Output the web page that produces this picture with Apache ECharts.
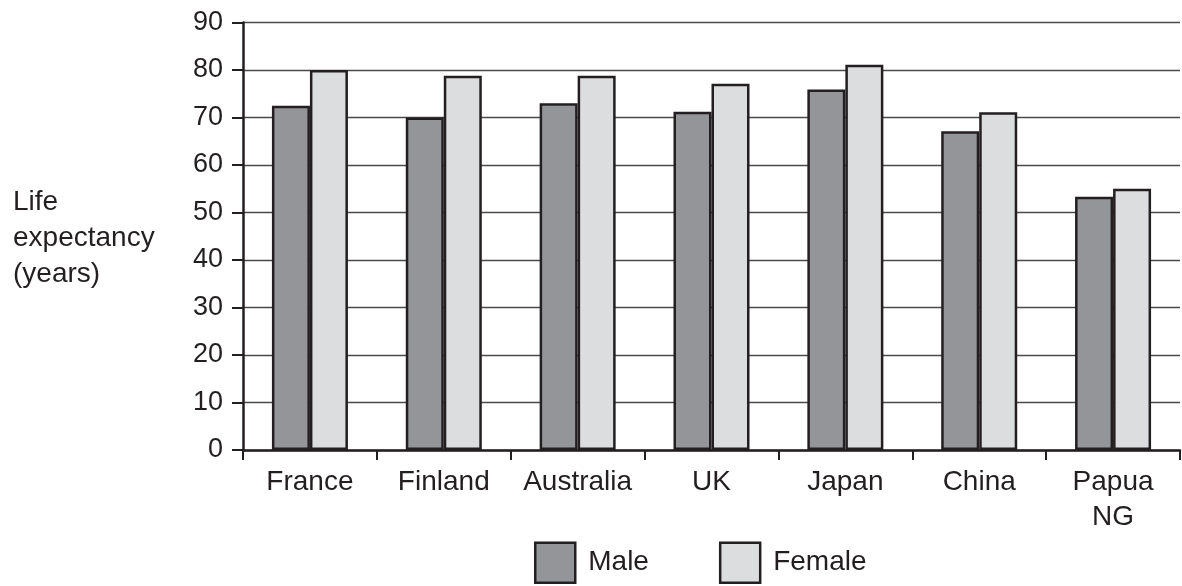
<!DOCTYPE html>
<html>
<head>
<meta charset="utf-8">
<script src="https://cdn.jsdelivr.net/npm/echarts@6/dist/echarts.min.js"></script>
<style>html,body{margin:0;padding:0;background:#fff}#c{width:1182px;height:586px}</style>
</head>
<body>
<div id="c"></div>
<script>
const categories = ['France', 'Finland', 'Australia', 'UK', 'Japan', 'China', 'Papua\nNG'];
const maleValues = [72.5, 70.0, 73.0, 71.2, 75.9, 67.1, 53.3];
const femaleValues = [80.0, 78.8, 78.8, 77.1, 81.1, 71.1, 55.0];
const seriesNames = ['Male', 'Female'];
const yTicks = { min: 0, max: 90, interval: 10 };

const FONT = 'Liberation Sans, Arial, Helvetica, sans-serif';
const INK = '#231f20';

const chart = echarts.init(document.getElementById('c'), null, { renderer: 'canvas' });
chart.setOption({
  animation: false,
  backgroundColor: '#ffffff',
  textStyle: { fontFamily: FONT, color: INK },
  grid: { left: 243, right: 2, top: 22.5, bottom: 136, containLabel: false },
  graphic: [{
    type: 'text',
    left: 13,
    top: 184,
    style: {
      text: 'Life\nexpectancy\n(years)',
      font: '28px ' + FONT,
      fill: INK,
      lineHeight: 36
    }
  }],
  legend: {
    data: seriesNames,
    left: 534,
    top: 541.5,
    padding: 0,
    icon: 'rect',
    itemWidth: 40,
    itemHeight: 40,
    itemGap: 70,
    itemStyle: { borderWidth: 2.5, borderColor: INK },
    textStyle: { fontFamily: FONT, fontSize: 28, color: INK, padding: [0, 0, 0, 8] }
  },
  xAxis: {
    type: 'category',
    data: categories,
    axisLine: { lineStyle: { color: INK, width: 2.5 } },
    axisTick: { show: true, alignWithLabel: false, length: 10, lineStyle: { color: INK, width: 2 } },
    axisLabel: { fontFamily: FONT, fontSize: 28, color: INK, margin: 15, lineHeight: 35, interval: 0 },
    splitLine: { show: false }
  },
  yAxis: {
    type: 'value',
    min: yTicks.min,
    max: yTicks.max,
    interval: yTicks.interval,
    axisLine: { show: true, lineStyle: { color: INK, width: 2.5 } },
    axisTick: { show: true, length: 11, lineStyle: { color: INK, width: 2 } },
    axisLabel: { fontFamily: FONT, fontSize: 27, color: INK, margin: 20 },
    splitLine: { show: true, lineStyle: { color: '#4a4a4a', width: 1.3 } }
  },
  series: [
    {
      name: seriesNames[0],
      type: 'bar',
      data: maleValues,
      barWidth: 38,
      barGap: '0%',
      itemStyle: { color: '#939598', borderColor: INK, borderWidth: 2.5 }
    },
    {
      name: seriesNames[1],
      type: 'bar',
      data: femaleValues,
      barWidth: 38,
      itemStyle: { color: '#dcdddf', borderColor: INK, borderWidth: 2.5 }
    }
  ]
});
</script>
</body>
</html>
